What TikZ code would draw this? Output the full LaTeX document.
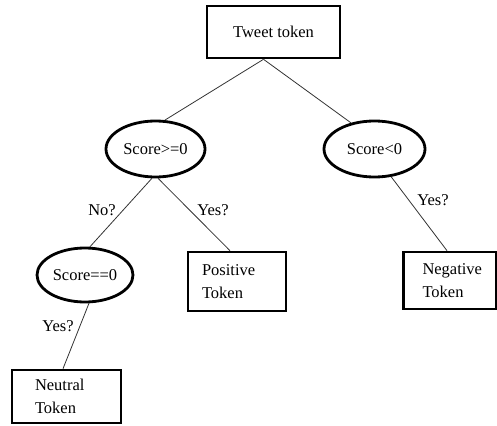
\documentclass[tikz,border=0pt]{standalone}
\usepackage{fontspec}
\setmainfont{Liberation Serif}
\usetikzlibrary{shapes.geometric}
\begin{document}
\begin{tikzpicture}[x=1pt,y=-1pt,
  every node/.style={font=\fontsize{16.5}{23}\selectfont},
  boxc/.style={draw, line width=2.6pt, rectangle, inner sep=0pt, align=center},
  boxl/.style={draw, line width=2.6pt, rectangle, inner ysep=0pt, align=left},
  oval/.style={draw, line width=2.8pt, ellipse, inner sep=0pt},
  conn/.style={draw=black!80, line width=0.8pt},
  lbl/.style={inner sep=0pt}]
\useasboundingbox (0,0) rectangle (497,425);
\node[boxc, minimum width=133pt, minimum height=52pt] (tweet) at (273.5,32) {Tweet token};
\node[oval, minimum width=99pt, minimum height=56pt] (ge) at (155.5,149) {Score>=0};
\node[oval, minimum width=101pt, minimum height=56pt] (lt) at (374.5,149) {Score<0};
\node[oval, minimum width=96pt, minimum height=54pt] (eq) at (85,275) {Score==0};
\node[boxl, minimum height=59pt, text width=70pt, inner xsep=14pt] (pos) at (237,281.5) {Positive\\Token};
\node[boxl, minimum height=57pt, text width=55pt, inner xsep=19pt] (neg) at (450,280.5) {Negative\\Token};
\node[boxl, minimum height=53pt, text width=63pt, inner xsep=23pt] (neu) at (66.5,396.5) {Neutral\\Token};
\draw[conn] ([xshift=-10pt]tweet.south) -- (ge.72);
\draw[conn] ([xshift=-10pt]tweet.south) -- (lt.132);
\draw[conn] (ge.263) -- (eq.80);
\draw[conn] (ge.275) -- ([xshift=-7pt]pos.north);
\draw[conn] (lt.301) -- ([xshift=-3pt]neg.north);
\draw[conn] (eq.278) -- ([xshift=-3.5pt]neu.north);
\node[lbl] (l1) at (102,210) {No?};
\node[lbl] (l2) at (213,210) {Yes?};
\node[lbl] (l3) at (433,200) {Yes?};
\node[lbl] (l4) at (58,326) {Yes?};
\end{tikzpicture}
\end{document}
